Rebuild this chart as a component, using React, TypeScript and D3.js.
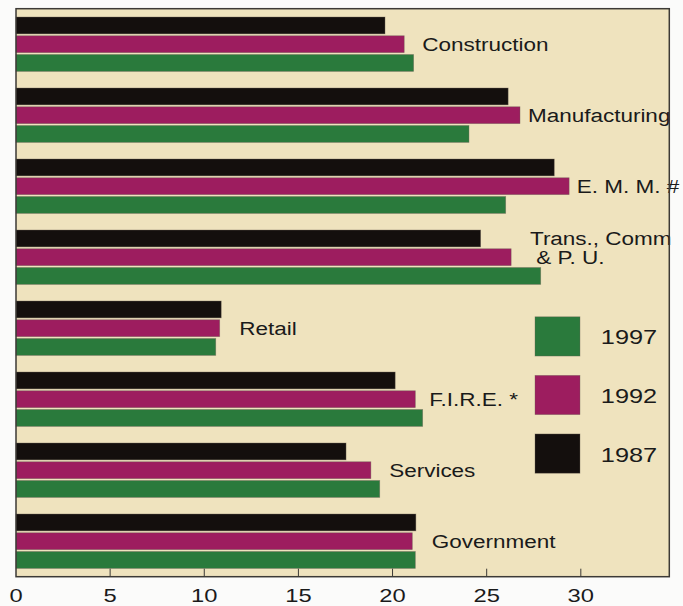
import React from "react";
import * as d3 from "d3";

const categories = [
  "Construction",
  "Manufacturing",
  "E. M. M. #",
  "Trans., Comm",
  "Retail",
  "F.I.R.E. *",
  "Services",
  "Government",
];
const labelLines = [
  ["Construction"],
  ["Manufacturing"],
  ["E. M. M. #"],
  ["Trans., Comm", " & P. U."],
  ["Retail"],
  ["F.I.R.E. *"],
  ["Services"],
  ["Government"],
];
// label anchor positions in value units
const labelAt = [21.58, 27.19, 29.79, 27.3, 11.86, 21.95, 19.82, 22.08];

const series = ["1987", "1992", "1997"];
const values1987 = [19.6, 26.14, 28.59, 24.68, 10.9, 20.14, 17.53, 21.24];
const values1992 = [20.62, 26.77, 29.38, 26.3, 10.82, 21.21, 18.85, 21.05];
const values1997 = [21.12, 24.06, 26.01, 27.87, 10.61, 21.6, 19.32, 21.21];
const seriesValues = [values1987, values1992, values1997];
const legendOrder = ["1997", "1992", "1987"];
const tickValues = [0, 5, 10, 15, 20, 25, 30];

const colors: Record<string, string> = {
  "1987": "#140f0d",
  "1992": "#9d1d5f",
  "1997": "#2a7a3c",
};

const W = 683;
const H = 606;
const left = 16;
const right = 669.3;
const top = 8.7;
const bottom = 576.7;
const FONT = "'Liberation Sans', Arial, Helvetica, sans-serif";
const SX = 1.25;

export default function App() {
  const x = d3.scaleLinear().domain([0, 34.7]).range([left, right]);
  const y0 = d3
    .scaleBand<string>()
    .domain(categories)
    .range([top, bottom])
    .paddingInner(0.234)
    .paddingOuter(0.117);
  const y1 = d3
    .scaleBand<string>()
    .domain(series)
    .range([0, y0.bandwidth()])
    .paddingInner(0.1)
    .paddingOuter(0);

  const legendY = d3.scaleBand<string>().domain(legendOrder).range([308, 482]).paddingInner(0.33).paddingOuter(0.15);

  return (
    <svg
      width={W}
      height={H}
      style={{ position: "absolute", left: 0, top: 0, background: "#fbfbfa" }}
    >
      <rect
        x={left}
        y={top}
        width={right - left}
        height={bottom - top}
        fill="#efe3be"
      />
      {categories.map((c, i) => (
        <g key={c}>
          {series.map((s, j) => (
            <rect
              key={s}
              x={x(0)}
              y={(y0(c) as number) + (y1(s) as number)}
              width={x(seriesValues[j][i]) - x(0)}
              height={y1.bandwidth()}
              fill={colors[s]}
              stroke="#6d6258"
              strokeOpacity={0.55}
              strokeWidth={0.7}
            />
          ))}
          {labelLines[i].map((line, k) => {
            const yy =
              labelLines[i].length === 1
                ? (y0(c) as number) + (y1("1992") as number) + y1.bandwidth() / 2
                : (y0(c) as number) + (y1(series[k]) as number) + y1.bandwidth() / 2;
            return (
              <text
                key={k}
                transform={`translate(${x(labelAt[i])},${yy}) scale(${SX},1)`}
                dy="0.36em"
                fontFamily={FONT}
                fontSize={18}
                fill="#1a1a1a"
                style={{ whiteSpace: "pre" }}
              >
                {line}
              </text>
            );
          })}
        </g>
      ))}
      {legendOrder.map((s) => (
        <g key={s}>
          <rect
            x={535}
            y={legendY(s)}
            width={45}
            height={legendY.bandwidth()}
            fill={colors[s]}
            stroke="#6d6258"
            strokeOpacity={0.5}
            strokeWidth={0.7}
          />
          <text
            transform={`translate(629,${(legendY(s) as number) + legendY.bandwidth() / 2 + 1}) scale(1.3,1)`}
            dy="0.36em"
            textAnchor="middle"
            fontFamily={FONT}
            fontSize={19.5}
            fill="#1a1a1a"
          >
            {s}
          </text>
        </g>
      ))}
      <rect
        x={left}
        y={top}
        width={right - left}
        height={bottom - top}
        fill="none"
        stroke="#3c3a36"
        strokeWidth={1.5}
      />
      {tickValues.map((t) => (
        <g key={t}>
          {t > 0 && (
            <line
              x1={x(t)}
              x2={x(t)}
              y1={bottom}
              y2={bottom - 8}
              stroke="#3c3a36"
              strokeWidth={1}
            />
          )}
          <text
            transform={`translate(${x(t)},601.5) scale(1.27,1)`}
            textAnchor="middle"
            fontFamily={FONT}
            fontSize={18.7}
            fill="#1a1a1a"
          >
            {t}
          </text>
        </g>
      ))}
    </svg>
  );
}
